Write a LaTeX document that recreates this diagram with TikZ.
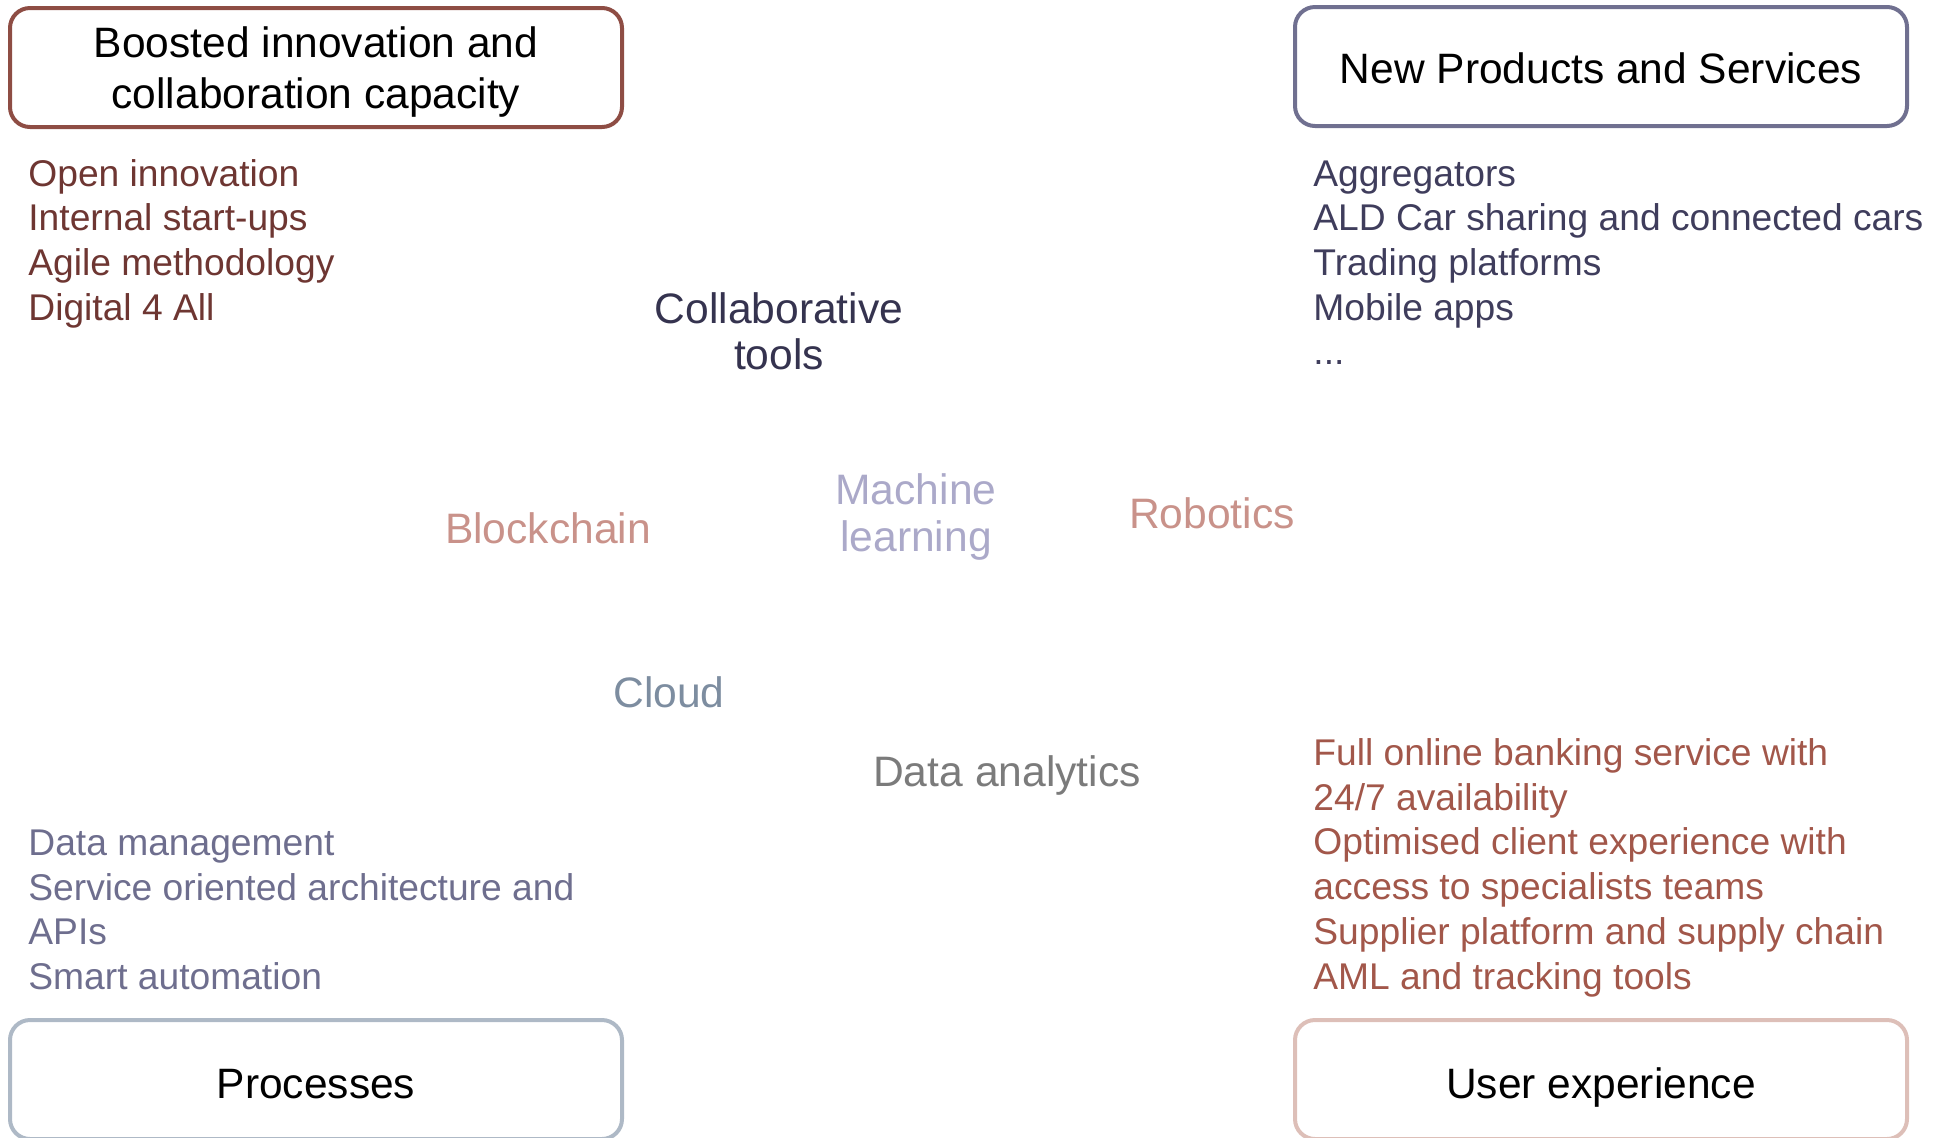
\documentclass[tikz,border=0pt]{standalone}
\usepackage{fontspec}
\setmainfont{Liberation Sans}
\definecolor{tlborder}{HTML}{8E4D44}
\definecolor{tltext}{HTML}{6E3632}
\definecolor{trborder}{HTML}{707090}
\definecolor{trtext}{HTML}{3F3D5C}
\definecolor{blborder}{HTML}{AEB9C6}
\definecolor{bltext}{HTML}{6E6E8E}
\definecolor{brborder}{HTML}{DDBFB8}
\definecolor{brtext}{HTML}{A2574A}
\definecolor{collab}{HTML}{35334F}
\definecolor{mlcol}{HTML}{ABA9C9}
\definecolor{pinkcol}{HTML}{C9928A}
\definecolor{cloudcol}{HTML}{7D8DA0}
\definecolor{datacol}{HTML}{7B7B7B}
\begin{document}
\begin{tikzpicture}[x=0.5pt,y=-0.5pt,
  box/.style={draw, line width=2pt, rounded corners=10pt,
    minimum width=306pt, minimum height=59.5pt, inner sep=0pt,
    align=center, text=black, text depth=0pt,
    font=\fontsize{21.25pt}{25.5pt}\selectfont},
  onebox/.style={box, text height=16.6pt},
  lowbox/.style={box, text height=19pt},
  listitem/.style={anchor=base west, inner sep=0pt,
    font=\fontsize{18.6pt}{22pt}\selectfont},
  lbl/.style={anchor=base, inner sep=0pt,
    font=\fontsize{21.3pt}{25pt}\selectfont}]
\clip (0,0) rectangle (1949,1137);
\useasboundingbox (0,0) rectangle (1949,1137);

% boxes
\node[box, draw=tlborder] (tlbox) at (316,67.5) {Boosted innovation and\\collaboration capacity};
\node[onebox, draw=trborder] (trbox) at (1601,66.5) {New Products and Services};
\node[lowbox, draw=blborder] (blbox) at (316,1079.5) {Processes};
\node[lowbox, draw=brborder] (brbox) at (1601,1079.5) {User experience};

% lists
\node[listitem, text=tltext] (tl0) at (28,186) {Open innovation};
\node[listitem, text=tltext] (tl1) at (28,230.7) {Internal start-ups};
\node[listitem, text=tltext] (tl2) at (28,275.4) {Agile methodology};
\node[listitem, text=tltext] (tl3) at (28,320.1) {Digital 4 All};

\node[listitem, text=trtext] (tr0) at (1313,186) {Aggregators};
\node[listitem, text=trtext] (tr1) at (1313,230.7) {ALD Car sharing and connected cars};
\node[listitem, text=trtext] (tr2) at (1313,275.4) {Trading platforms};
\node[listitem, text=trtext] (tr3) at (1313,320.1) {Mobile apps};
\node[listitem, text=trtext] (tr4) at (1313,364.8) {...};

\node[listitem, text=bltext] (bl0) at (28,855.5) {Data management};
\node[listitem, text=bltext] (bl1) at (28,900.1) {Service oriented architecture and};
\node[listitem, text=bltext] (bl2) at (28,944.7) {APIs};
\node[listitem, text=bltext] (bl3) at (28,989.3) {Smart automation};

\node[listitem, text=brtext] (br0) at (1313,765.5) {Full online banking service with};
\node[listitem, text=brtext] (br1) at (1313,810.2) {24/7 availability};
\node[listitem, text=brtext] (br2) at (1313,854.9) {Optimised client experience with};
\node[listitem, text=brtext] (br3) at (1313,899.6) {access to specialists teams};
\node[listitem, text=brtext] (br4) at (1313,944.3) {Supplier platform and supply chain};
\node[listitem, text=brtext] (br5) at (1313,989) {AML and tracking tools};

% centre labels
\node[lbl, text=collab] (collab1) at (779,323) {Collaborative};
\node[lbl, text=collab] (collab2) at (779,369) {tools};
\node[lbl, text=mlcol] (ml1) at (916,504) {Machine};
\node[lbl, text=mlcol] (ml2) at (916,551) {learning};
\node[lbl, text=pinkcol] (blockchain) at (548,543) {Blockchain};
\node[lbl, text=pinkcol] (robotics) at (1212,528) {Robotics};
\node[lbl, text=cloudcol] (cloud) at (669,707) {Cloud};
\node[lbl, text=datacol] (data) at (1007,786) {Data analytics};
\end{tikzpicture}
\end{document}
